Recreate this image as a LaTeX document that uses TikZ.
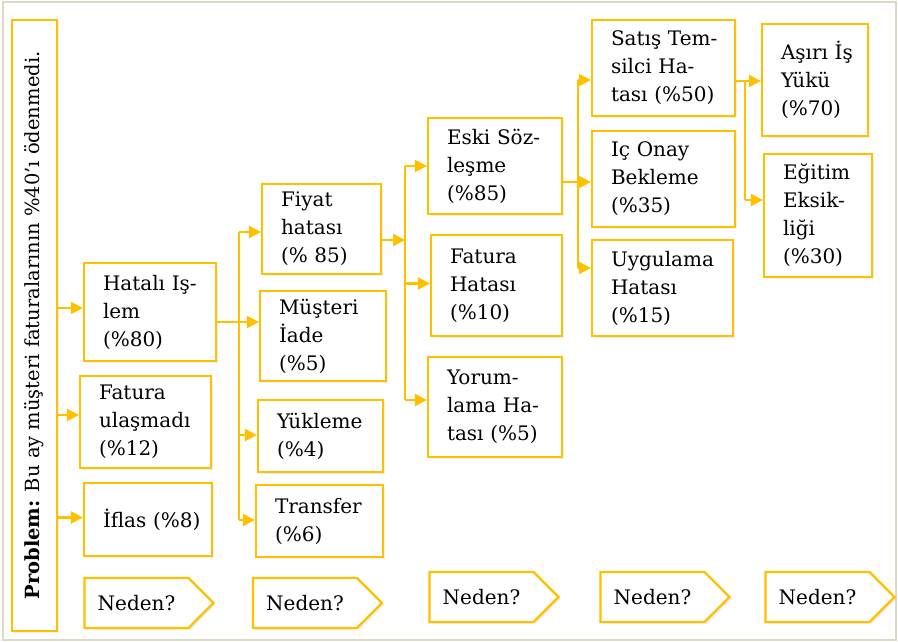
\documentclass[tikz,border=0pt]{standalone}
\usepackage{fontspec}
\setmainfont{DejaVu Serif}
\usetikzlibrary{arrows.meta,shapes.symbols,shadows}
\definecolor{gold}{HTML}{FFC000}
\definecolor{framec}{HTML}{DCD8C4}
\begin{document}
\begin{tikzpicture}[x=1pt,y=-1pt,
  every node/.style={font=\fontsize{20}{28}\selectfont},
  bx/.style={draw=gold, line width=2.2pt, fill=white, align=left, inner sep=0pt,
    drop shadow={shadow xshift=2pt,shadow yshift=-2pt,opacity=0.12}},
  nd/.style={bx, signal, signal to=east, signal pointer angle=90,
    minimum width=129pt, minimum height=50pt, align=center},
  ln/.style={draw=gold, line width=2.2pt},
  arr/.style={ln, -{Triangle[length=12pt,width=12pt]}},
]
\useasboundingbox (0,0) rectangle (898,642);
\fill[white] (0,0) rectangle (898,642);
\draw[framec, line width=2pt] (2.5,2.5) rectangle (895.5,639.5);

% problem
\node[bx, rotate=90, minimum width=611pt, minimum height=45pt, align=center,
  font=\fontsize{19.5}{22}\selectfont] (P) at (34.5,325.5)
  {\textbf{Problem:} Bu ay müşteri faturalarının \%40'ı ödenmedi.};

% level 1
\node[bx, minimum width=132pt, minimum height=98pt, text width=94pt] (A1) at (150,312)
  {\mbox{Hatalı Iş-}\\lem\\(\%80)};
\node[bx, minimum width=131pt, minimum height=92pt, text width=93pt] (A2) at (145.5,422)
  {Fatura\\ulaşmadı\\(\%12)};
\node[bx, minimum width=128pt, minimum height=73pt, text width=90pt] (A3) at (148,519.5)
  {\mbox{İflas (\%8)}};

% level 2
\node[bx, minimum width=119pt, minimum height=90pt, text width=81pt] (B1) at (321.5,229)
  {Fiyat\\hatası\\\mbox{(\% 85)}};
\node[bx, minimum width=126pt, minimum height=90pt, text width=88pt] (B2) at (323,336)
  {Müşteri\\İade\\(\%5)};
\node[bx, minimum width=125pt, minimum height=72pt, text width=87pt] (B3) at (320.5,436)
  {Yükleme\\(\%4)};
\node[bx, minimum width=127pt, minimum height=72pt, text width=89pt] (B4) at (319.5,521)
  {Transfer\\(\%6)};

% level 3
\node[bx, minimum width=134pt, minimum height=96pt, text width=96pt] (C1) at (495,166)
  {\mbox{Eski Söz-}\\leşme\\(\%85)};
\node[bx, minimum width=131pt, minimum height=101pt, text width=93pt] (C2) at (496.5,285.5)
  {Fatura\\Hatası\\(\%10)};
\node[bx, minimum width=134pt, minimum height=100pt, text width=96pt] (C3) at (495,407)
  {\mbox{Yorum-}\\\mbox{lama Ha-}\\\mbox{tası (\%5)}};

% level 4
\node[bx, minimum width=143pt, minimum height=96pt, text width=105pt] (D1) at (663.5,68)
  {\mbox{Satış Tem-}\\\mbox{silci Ha-}\\\mbox{tası (\%50)}};
\node[bx, minimum width=143pt, minimum height=96pt, text width=105pt] (D2) at (663.5,179)
  {\mbox{Iç Onay}\\Bekleme\\(\%35)};
\node[bx, minimum width=141pt, minimum height=96pt, text width=103pt] (D3) at (662.5,288)
  {Uygulama\\Hatası\\(\%15)};

% level 5
\node[bx, minimum width=106pt, minimum height=112pt, text width=68pt] (E1) at (815,80)
  {\mbox{Aşırı İş}\\Yükü\\(\%70)};
\node[bx, minimum width=108pt, minimum height=123pt, text width=70pt] (E2) at (818,215.5)
  {Eğitim\\\mbox{Eksik-}\\liği\\(\%30)};

% Neden? markers
\node[nd] (N1) at (136.5,603) {Neden?};
\node[nd] (N2) at (305,603) {Neden?};
\node[nd] (N3) at (481.5,597) {Neden?};
\node[nd] (N4) at (652.5,597) {Neden?};
\node[nd] (N5) at (817.5,597) {Neden?};

% bus coordinates
\coordinate (k1) at (239,0);
\coordinate (k2) at (405,0);
\coordinate (k3) at (578,0);
\coordinate (k4) at (745,0);

% problem -> level 1
\coordinate (a1in) at ([yshift=4pt]A1.west);
\coordinate (a2in) at ([yshift=7pt]A2.west);
\coordinate (a3in) at ([yshift=2pt]A3.west);
\draw[arr] (P.south |- a1in) -- (a1in);
\draw[arr] (P.south |- a2in) -- (a2in);
\draw[arr] (P.south |- a3in) -- (a3in);

% level 1 -> level 2
\coordinate (b1in) at ([yshift=-3pt]B1.west);
\coordinate (b2in) at ([yshift=14pt]B2.west);
\coordinate (b3in) at ([yshift=1pt]B3.west);
\coordinate (b4in) at ([yshift=1pt]B4.west);
\draw[ln] (k1 |- b1in) -- (k1 |- b4in);
\draw[arr] (A1.east |- b2in) -- (b2in);
\draw[arr] (k1 |- b1in) -- (b1in);
\draw[arr] (k1 |- b3in) -- (b3in);
\draw[arr] (k1 |- b4in) -- (b4in);

% level 2 -> level 3
\coordinate (b1out) at ([yshift=-11pt]B1.east);
\coordinate (c1in) at (C1.west);
\coordinate (c2in) at ([yshift=2pt]C2.west);
\coordinate (c3in) at ([yshift=7pt]C3.west);
\draw[arr] (b1out) -- (k2 |- b1out);
\draw[ln] (k2 |- c1in) -- (k2 |- c3in);
\draw[arr] (k2 |- c1in) -- (c1in);
\draw[arr] (k2 |- c2in) -- (c2in);
\draw[arr] (k2 |- c3in) -- (c3in);

% level 3 -> level 4
\coordinate (d1in) at ([yshift=-12pt]D1.west);
\coordinate (d2in) at ([yshift=-3pt]D2.west);
\coordinate (d3in) at ([yshift=20pt]D3.west);
\draw[ln] (k3 |- d1in) -- (k3 |- d3in);
\draw[arr] (C1.east |- d2in) -- (d2in);
\draw[arr] (k3 |- d1in) -- (d1in);
\draw[arr] (k3 |- d3in) -- (d3in);

% level 4 -> level 5
\coordinate (e1in) at ([yshift=-1pt]E1.west);
\coordinate (e2in) at ([yshift=15.5pt]E2.west);
\draw[arr] (D1.east |- e1in) -- (e1in);
\draw[ln] (k4 |- e1in) -- (k4 |- e2in);
\draw[arr] (k4 |- e2in) -- (e2in);
\end{tikzpicture}
\end{document}
